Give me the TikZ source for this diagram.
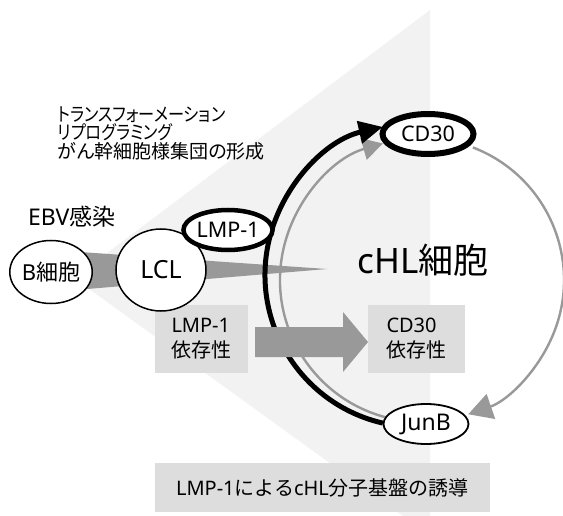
\documentclass[tikz,border=0pt]{standalone}
\usepackage{fontspec}
\setmainfont{Noto Sans}
\newfontfamily\jp{Noto Sans CJK JP}
\newfontfamily\jpk{Noto Sans CJK JP}[RawFeature=+palt]
\newfontfamily\jpn{Noto Sans CJK JP}[RawFeature=+palt, FakeStretch=0.85]
\usetikzlibrary{arrows.meta,shapes.geometric,calc}
\definecolor{bgtri}{HTML}{F2F2F2}
\definecolor{boxg}{HTML}{DDDDDD}
\definecolor{midg}{HTML}{999999}
\newcommand\myfs[2]{\fontsize{#1}{#2}\selectfont}
\begin{document}
\begin{tikzpicture}[x=1pt,y=-1pt,
  every node/.style={inner sep=0pt, outer sep=0pt},
  cell/.style={ellipse, draw=black, fill=white},
  graybox/.style={rectangle, fill=boxg, align=left},
  grayarc/.style={draw=midg, line width=2.4pt},
  blackarc/.style={draw=black, line width=5pt},
  lbl/.style={anchor=base west}]
\path[use as bounding box, fill=white] (0,0) rectangle (563,516);
% background triangle
\fill[bgtri] (74,278) -- (430,10) -- (430,516) -- (403,516) -- cycle;
% wedge
\fill[midg] (51,250) -- (327,269) -- (51,292) -- cycle;
% boxes
\node[graybox, minimum width=93pt, minimum height=68pt, font=\myfs{20}{25}] (lbox) at (201.5,339)
  {LMP-1\\{\jp 依存性}};
\node[graybox, minimum width=97pt, minimum height=68pt, font=\myfs{20}{25}] (cbox) at (416.5,339)
  {CD30\\{\jp 依存性}};
\node[graybox, minimum width=335pt, minimum height=49pt, font=\myfs{20}{24}] (bbox) at (322.5,487.5)
  {LMP-1{\jp による}cHL{\jp 分子基盤の誘導}};
% centres of the arcs
\coordinate (gc) at (422,280);
\coordinate (bc) at (417,275);
% arcs
\draw[grayarc, -{Triangle[length=24pt,width=26pt]}] ($(gc)+(-69:142)$) arc[start angle=-69, end angle=71, radius=142];
\draw[grayarc, -{Triangle[length=20pt,width=22pt]}] ($(gc)+(104:142)$) arc[start angle=104, end angle=254, radius=142];
\draw[blackarc, -{Triangle[length=24pt,width=22pt]}] ($(bc)+(103:152)$) arc[start angle=103, end angle=257, radius=152];
% block arrow
\fill[midg] (255,327) -- (343,327) -- (343,312) -- (368,342) -- (343,372) -- (343,357) -- (255,357) -- cycle;
% nodes
\node[cell, line width=1.5pt, minimum width=70pt, minimum height=63pt, font=\myfs{22}{24}] (B) at (51,272) {B{\jp 細胞}};
\node[cell, line width=1.5pt, minimum width=90pt, minimum height=82pt, font=\myfs{25}{28}] (LCL) at (161,270) {LCL};
\node[cell, line width=4.5pt, minimum width=78pt, minimum height=40pt, font=\myfs{21.5}{24}] (LMP) at (228,230) {LMP-1};
\node[cell, line width=6pt, minimum width=91pt, minimum height=40pt, font=\myfs{21.5}{24}] (CD30) at (428,134) {CD30};
\node[cell, line width=1.8pt, minimum width=85pt, minimum height=40pt, font=\myfs{23}{24}] (JunB) at (426,424) {JunB};
\node[font=\myfs{35}{40}] (chl) at (423,260) {cHL{\jp 細胞}};
% labels
\node[lbl, font=\myfs{23}{24}] (ebv) at (28,226) {EBV{\jp 感染}};
\node[lbl, font=\myfs{19}{19}] (t1) at (58,122) {\jpn トランスフォーメーション};
\node[lbl, font=\myfs{19}{19}] (t2) at (58,140) {\jpn リプログラミング};
\node[lbl, font=\myfs{19}{19}] (t3) at (58,159) {\jpk がん幹細胞様集団の形成};
\end{tikzpicture}
\end{document}
